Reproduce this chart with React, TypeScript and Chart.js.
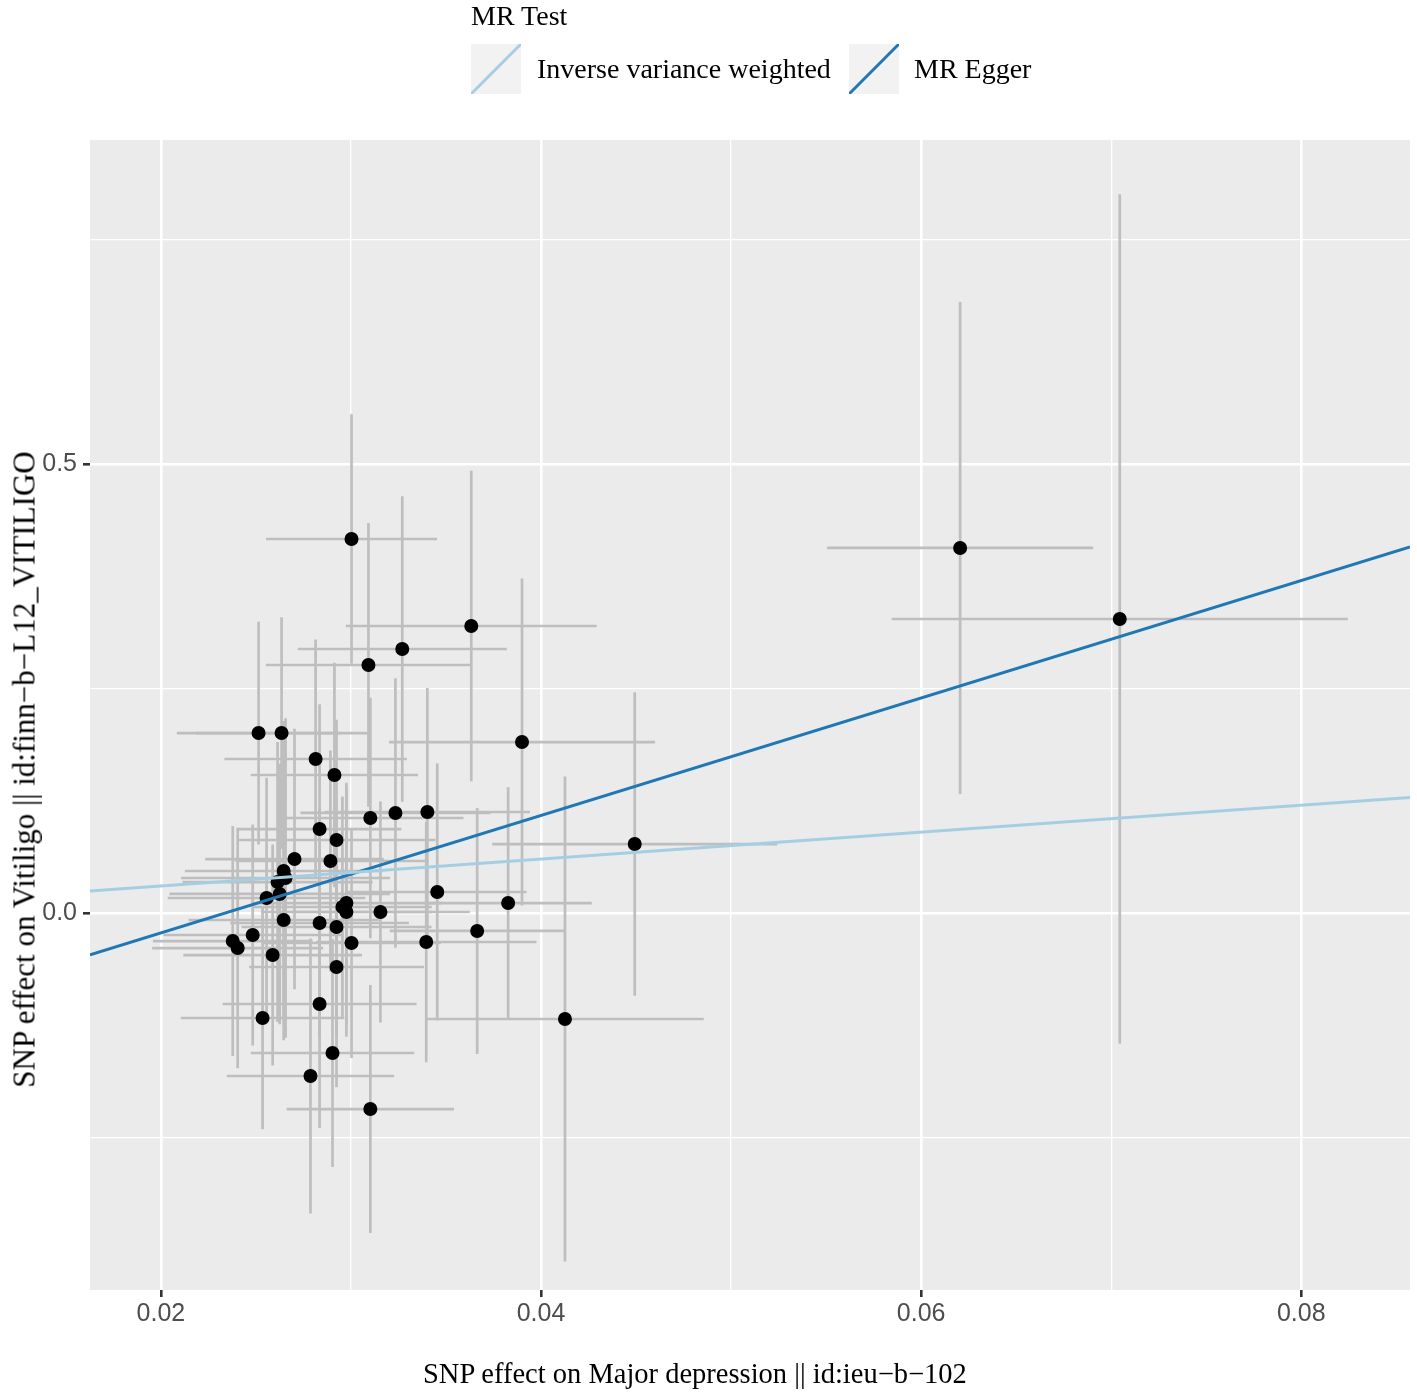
import { useEffect, useRef } from 'react';
import { Chart, registerables } from 'chart.js';

Chart.register(...registerables);

// SNP effects on the exposure (Major depression) and their standard errors
const snpX = [
   0.03003, 0.06205, 0.07045, 0.03633, 0.0327, 0.03092, 0.02514, 0.02635, 0.039, 0.02814,
   0.02913, 0.03402, 0.03234, 0.03102, 0.02835, 0.02924, 0.04493, 0.02703, 0.02892, 0.02646,
   0.02656, 0.02614, 0.03454, 0.02625, 0.02556, 0.03827, 0.02976, 0.02955, 0.02976, 0.03155,
   0.02646, 0.02835, 0.02924, 0.03664, 0.02483, 0.02378, 0.02404, 0.03003, 0.03396, 0.02588,
   0.02924, 0.02835, 0.02535, 0.02903, 0.02787, 0.03102, 0.04126,
];
const seX = [
   0.0045, 0.007, 0.012, 0.0066, 0.0055, 0.0054, 0.0043, 0.0045, 0.007, 0.0048,
   0.0044, 0.0054, 0.005, 0.0049, 0.0043, 0.0052, 0.0075, 0.0047, 0.005, 0.0052,
   0.0055, 0.005, 0.0047, 0.0058, 0.0052, 0.0044, 0.005, 0.0047, 0.0045, 0.0047,
   0.005, 0.0047, 0.005, 0.0046, 0.0047, 0.0042, 0.0045, 0.0047, 0.0058, 0.0047,
   0.0046, 0.0051, 0.0043, 0.0043, 0.0044, 0.0044, 0.0073,
];

// SNP effects on the outcome (Vitiligo) and their standard errors
const snpY = [
   0.4165, 0.4065, 0.3274, 0.3196, 0.294, 0.2762, 0.2004, 0.2004, 0.1904, 0.1715,
   0.1537, 0.1125, 0.1114, 0.1058, 0.0935, 0.0813, 0.0768, 0.0601, 0.0579, 0.0468,
   0.039, 0.0345, 0.0234, 0.0212, 0.0167, 0.0111, 0.0111, 0.0067, 0.0011, 0.0011,
   -0.0078, -0.0111, -0.0156, -0.02, -0.0245, -0.0312, -0.039, -0.0334, -0.0323, -0.0468,
   -0.0601, -0.1013, -0.1169, -0.1559, -0.1815, -0.2183, -0.118,
];
const seY = [
   0.139, 0.274, 0.473, 0.173, 0.17, 0.158, 0.124, 0.129, 0.182, 0.133,
   0.125, 0.138, 0.15, 0.134, 0.139, 0.134, 0.169, 0.145, 0.123, 0.167,
   0.178, 0.156, 0.143, 0.145, 0.134, 0.129, 0.134, 0.123, 0.139, 0.123,
   0.134, 0.128, 0.123, 0.137, 0.123, 0.128, 0.134, 0.128, 0.134, 0.123,
   0.134, 0.138, 0.124, 0.127, 0.153, 0.138, 0.27,
];

// MR estimates: slope and intercept per method
const methods = ['Inverse variance weighted', 'MR Egger'];
const methodColors = ['#A6CEE3', '#1F78B4'];
const slopes = [1.5, 6.54];
const intercepts = [0, -0.153];

const xMajor = [0.02, 0.04, 0.06, 0.08];
const xMinor = [0.03, 0.05, 0.07];
const yMajor = [0, 0.5];
const yMinor = [-0.25, 0.25, 0.75];
const xLimits = [0.01627, 0.08572];
const yLimits = [-0.4198, 0.8608];

const serif = '"Liberation Serif", "Times New Roman", serif';
const sans = '"Liberation Sans", Arial, sans-serif';

const panelPlugin = {
   id: 'panel',
   beforeDraw(chart: any) {
      const { ctx, chartArea } = chart;
      ctx.save();
      ctx.fillStyle = '#EBEBEB';
      ctx.fillRect(chartArea.left, chartArea.top, chartArea.width, chartArea.height);
      ctx.restore();
   },
};

// geom_errorbar + geom_errorbarh
const errorBarPlugin = {
   id: 'errorBars',
   beforeDatasetsDraw(chart: any) {
      const { ctx, chartArea, scales } = chart;
      const { x, y } = scales;
      ctx.save();
      ctx.beginPath();
      ctx.rect(chartArea.left, chartArea.top, chartArea.width, chartArea.height);
      ctx.clip();
      ctx.strokeStyle = '#BEBEBE';
      ctx.lineWidth = 2.7;
      snpX.forEach((bx, i) => {
         const by = snpY[i];
         const px = x.getPixelForValue(bx);
         const py = y.getPixelForValue(by);
         ctx.beginPath();
         ctx.moveTo(px, y.getPixelForValue(by - seY[i]));
         ctx.lineTo(px, y.getPixelForValue(by + seY[i]));
         ctx.moveTo(x.getPixelForValue(bx - seX[i]), py);
         ctx.lineTo(x.getPixelForValue(bx + seX[i]), py);
         ctx.stroke();
      });
      ctx.restore();
   },
};

function gridStyle(major: number[]) {
   return {
      color: '#FFFFFF',
      lineWidth: (c: any) => (major.includes(c.tick?.value) ? 2.6 : 1.3),
      tickColor: (c: any) => (major.includes(c.tick?.value) ? '#333333' : 'rgba(0,0,0,0)'),
      tickLength: 7,
      tickWidth: 2.6,
   };
}

function ScatterChart() {
   const chartRef = useRef<HTMLCanvasElement>(null);
   const chartInstance = useRef<Chart | null>(null);

   useEffect(() => {
      if (!chartRef.current) return;
      if (chartInstance.current) chartInstance.current.destroy();

      const fitLines = methods.map((m, i) => ({
         type: 'line' as const,
         label: m,
         data: xLimits.map((v) => ({ x: v, y: intercepts[i] + slopes[i] * v })),
         borderColor: methodColors[i],
         borderWidth: 3,
         pointRadius: 0,
         fill: false,
      }));

      chartInstance.current = new Chart(chartRef.current, {
         type: 'scatter',
         data: {
            datasets: [
               ...fitLines,
               {
                  type: 'scatter' as const,
                  label: 'SNPs',
                  data: snpX.map((v, i) => ({ x: v, y: snpY[i] })),
                  backgroundColor: '#000000',
                  borderWidth: 0,
                  pointRadius: 7,
               },
            ] as any,
         },
         options: {
            animation: false,
            responsive: true,
            maintainAspectRatio: false,
            layout: { padding: { top: 140, right: 4, left: 0, bottom: 0 } },
            plugins: {
               legend: { display: false },
               tooltip: { enabled: false },
            },
            scales: {
               x: {
                  type: 'linear',
                  min: xLimits[0],
                  max: xLimits[1],
                  afterBuildTicks: (s: any) => {
                     s.ticks = [...xMajor, ...xMinor].sort((a, b) => a - b).map((value) => ({ value }));
                  },
                  afterFit: (s: any) => {
                     s.height = 106;
                  },
                  ticks: {
                     autoSkip: false,
                     maxRotation: 0,
                     padding: 2,
                     color: '#4D4D4D',
                     font: { family: sans, size: 25 },
                     callback: (v: any) => (xMajor.includes(v) ? Number(v).toFixed(2) : ''),
                  },
                  grid: gridStyle(xMajor),
                  border: { display: false },
               },
               y: {
                  type: 'linear',
                  min: yLimits[0],
                  max: yLimits[1],
                  afterBuildTicks: (s: any) => {
                     s.ticks = [...yMajor, ...yMinor].sort((a, b) => a - b).map((value) => ({ value }));
                  },
                  afterFit: (s: any) => {
                     s.width = 90;
                  },
                  ticks: {
                     autoSkip: false,
                     padding: 6,
                     color: '#4D4D4D',
                     font: { family: sans, size: 25 },
                     callback: (v: any) => (yMajor.includes(v) ? Number(v).toFixed(1) : ''),
                  },
                  grid: gridStyle(yMajor),
                  border: { display: false },
               },
            },
         },
         plugins: [panelPlugin, errorBarPlugin],
      });

      return () => {
         if (chartInstance.current) {
            chartInstance.current.destroy();
            chartInstance.current = null;
         }
      };
   }, []);

   return <canvas ref={chartRef} />;
}

function LegendKey({ color }: { color: string }) {
   return (
      <svg width={50} height={50} style={{ display: 'block', background: '#F2F2F2' }}>
         <line x1={0} y1={50} x2={50} y2={0} stroke={color} strokeWidth={3} />
      </svg>
   );
}

const textStyle: React.CSSProperties = {
   position: 'absolute',
   fontFamily: serif,
   fontSize: 28,
   lineHeight: '28px',
   color: '#000000',
   whiteSpace: 'nowrap',
};

export default function App() {
   useEffect(() => {
      document.body.style.margin = '0';
   }, []);

   const keyLeft = [471, 849];
   const labelLeft = [537, 914];

   return (
      <div style={{ position: 'relative', width: 1417, height: 1396, background: '#FFFFFF', overflow: 'hidden' }}>
         <div style={{ position: 'absolute', left: 0, top: 0, width: 1417, height: 1396 }}>
            <ScatterChart />
         </div>
         <div style={{ ...textStyle, left: 471, top: 2 }}>MR Test</div>
         {methods.map((m, i) => (
            <div key={m}>
               <div style={{ position: 'absolute', left: keyLeft[i], top: 44 }}>
                  <LegendKey color={methodColors[i]} />
               </div>
               <div style={{ ...textStyle, left: labelLeft[i], top: 55 }}>{m}</div>
            </div>
         ))}
         <div style={{ ...textStyle, fontSize: 28.5, left: 423, top: 1360 }}>
            SNP effect on Major depression || id:ieu−b−102
         </div>
         <div
            style={{
               ...textStyle,
               fontSize: 31,
               lineHeight: '31px',
               width: 800,
               textAlign: 'center',
               left: 24 - 400,
               top: 769 - 15.5,
               transform: 'rotate(-90deg)',
               transformOrigin: '50% 50%',
            }}
         >
            SNP effect on Vitiligo || id:finn−b−L12_VITILIGO
         </div>
      </div>
   );
}
